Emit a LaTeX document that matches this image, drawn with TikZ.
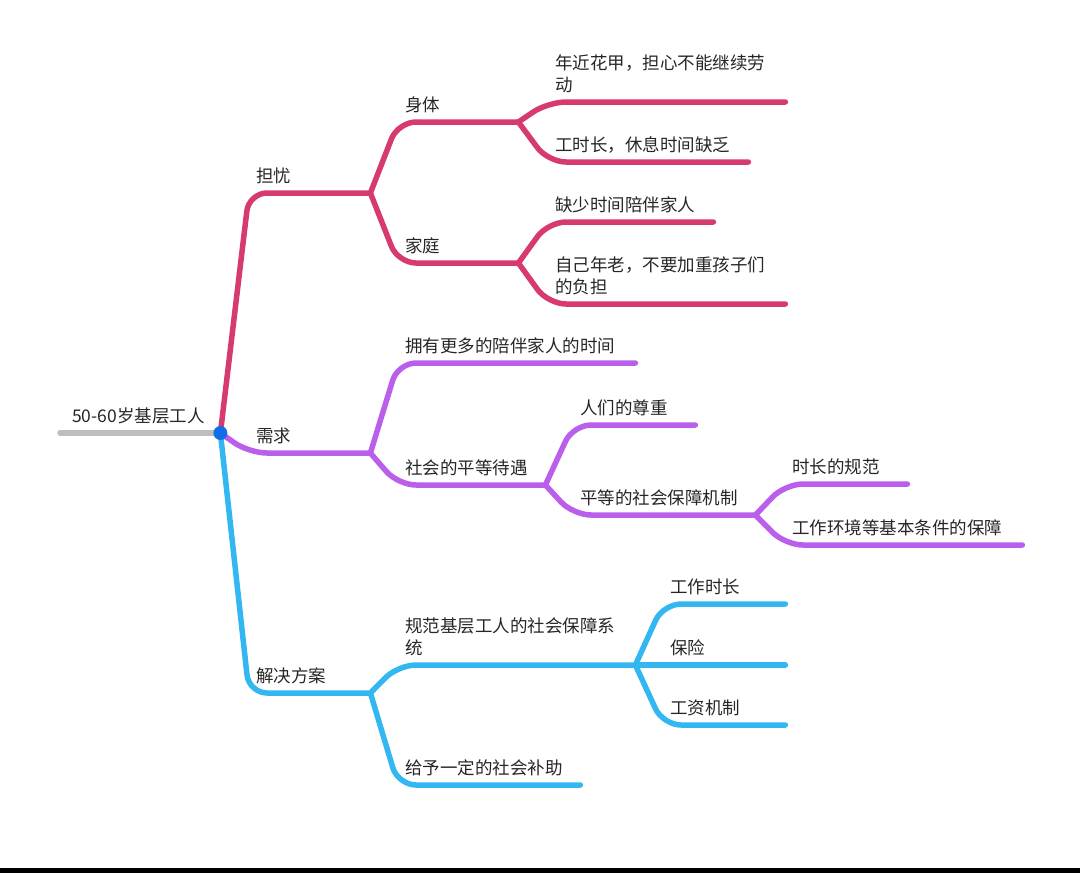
\documentclass[tikz,border=0pt]{standalone}
\usepackage{fontspec}
\setmainfont{Noto Sans CJK SC}
\usepackage{xcolor}
\usepackage{tikz}
\usetikzlibrary{positioning}

\definecolor{worrypink}{HTML}{D63A6E}
\definecolor{needpurple}{HTML}{B95FEB}
\definecolor{planblue}{HTML}{32B7F0}
\definecolor{rootgray}{HTML}{BEBEBE}
\definecolor{hubblue}{HTML}{126EE6}

\begin{document}
\begin{tikzpicture}[
    x=1pt, y=-1pt,
    topic/.style={anchor=south west, align=left, inner xsep=7pt, inner ysep=10pt, text depth=0pt, font=\fontsize{17.5}{22}\selectfont, text=black!85},
    twoline/.style={text depth=22pt},
    branch/.style={line width=5.5pt, line cap=round, line join=round, rounded corners=18pt},
    hub/.style={circle, fill=hubblue, minimum size=14pt, inner sep=0pt}
]
    \useasboundingbox (0,0) rectangle (1080,873);

    \node[topic, inner xsep=12pt, text width=136pt] (root) at (60,433) {50-60岁基层工人};

    \node[topic, text width=107pt] (danyou) at (249,193) {担忧};
    \node[topic, text width=107pt] (xuqiu) at (249,453) {需求};
    \node[topic, text width=107pt] (jiejue) at (249,693) {解决方案};

    \node[topic, text width=106pt] (shenti) at (398,122) {身体};
    \node[topic, text width=106pt] (jiating) at (398,263) {家庭};
    \node[topic, twoline, text width=223pt] (laodong) at (548,102) {年近花甲，担心不能继续劳\\动};
    \node[topic, text width=186pt] (gongshi) at (548,162) {工时长，休息时间缺乏};
    \node[topic, text width=151pt] (peiban) at (548,222) {缺少时间陪伴家人};
    \node[topic, twoline, text width=223pt] (fudan) at (548,304) {自己年老，不要加重孩子们\\的负担};

    \node[topic, text width=223pt] (gengduo) at (398,363) {拥有更多的陪伴家人的时间};
    \node[topic, text width=133pt] (pingdeng) at (398,485) {社会的平等待遇};
    \node[topic, text width=108pt] (zunzhong) at (573,425) {人们的尊重};
    \node[topic, text width=168pt] (baozhang) at (573,515) {平等的社会保障机制};
    \node[topic, text width=108pt] (guifan) at (785,484) {时长的规范};
    \node[topic, text width=223pt] (tiaojian) at (785,545) {工作环境等基本条件的保障};

    \node[topic, twoline, text width=223pt] (xitong) at (398,665) {规范基层工人的社会保障系\\统};
    \node[topic, text width=168pt] (buzhu) at (398,785) {给予一定的社会补助};
    \node[topic, text width=108pt] (shichang) at (663,604) {工作时长};
    \node[topic, text width=108pt] (baoxian) at (663,665) {保险};
    \node[topic, text width=108pt] (gongzi) at (663,725) {工资机制};

    \draw[branch, draw=rootgray] (root.south west) -- (root.south east);

    \draw[branch, draw=worrypink] (root.south east) -- (danyou.south west) -- (danyou.south east);
    \draw[branch, draw=worrypink] (danyou.south east) -- (shenti.south west) -- (shenti.south east);
    \draw[branch, draw=worrypink] (danyou.south east) -- (jiating.south west) -- (jiating.south east);
    \draw[branch, draw=worrypink] (shenti.south east) -- (laodong.south west) -- (laodong.south east);
    \draw[branch, draw=worrypink] (shenti.south east) -- (gongshi.south west) -- (gongshi.south east);
    \draw[branch, draw=worrypink] (jiating.south east) -- (peiban.south west) -- (peiban.south east);
    \draw[branch, draw=worrypink] (jiating.south east) -- (fudan.south west) -- (fudan.south east);

    \draw[branch, draw=needpurple] (root.south east) -- (xuqiu.south west) -- (xuqiu.south east);
    \draw[branch, draw=needpurple] (xuqiu.south east) -- (gengduo.south west) -- (gengduo.south east);
    \draw[branch, draw=needpurple] (xuqiu.south east) -- (pingdeng.south west) -- (pingdeng.south east);
    \draw[branch, draw=needpurple] (pingdeng.south east) -- (zunzhong.south west) -- (zunzhong.south east);
    \draw[branch, draw=needpurple] (pingdeng.south east) -- (baozhang.south west) -- (baozhang.south east);
    \draw[branch, draw=needpurple] (baozhang.south east) -- (guifan.south west) -- (guifan.south east);
    \draw[branch, draw=needpurple] (baozhang.south east) -- (tiaojian.south west) -- (tiaojian.south east);

    \draw[branch, draw=planblue] (root.south east) -- (jiejue.south west) -- (jiejue.south east);
    \draw[branch, draw=planblue] (jiejue.south east) -- (xitong.south west) -- (xitong.south east);
    \draw[branch, draw=planblue] (jiejue.south east) -- (buzhu.south west) -- (buzhu.south east);
    \draw[branch, draw=planblue] (xitong.south east) -- (shichang.south west) -- (shichang.south east);
    \draw[branch, draw=planblue] (xitong.south east) -- (baoxian.south west) -- (baoxian.south east);
    \draw[branch, draw=planblue] (xitong.south east) -- (gongzi.south west) -- (gongzi.south east);

    \node[hub] (center) at (root.south east) {};

    \fill[black] (0,868) rectangle (1080,873);
\end{tikzpicture}
\end{document}
